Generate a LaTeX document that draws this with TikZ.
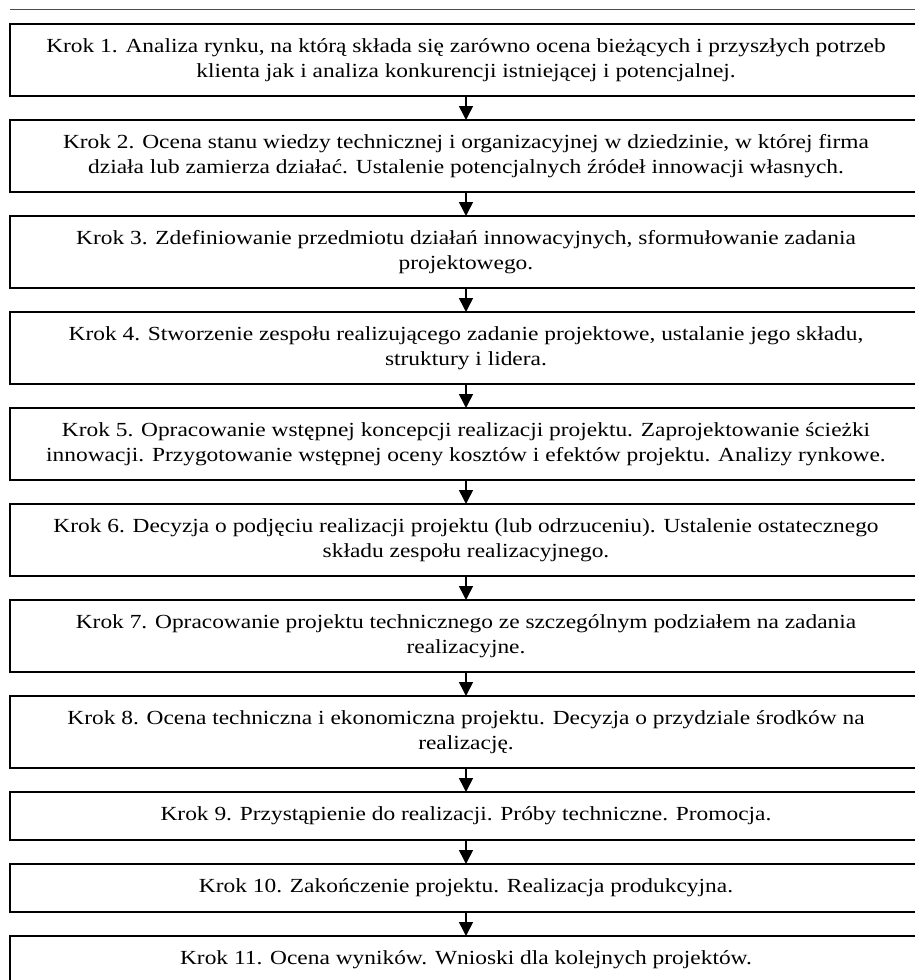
\documentclass[tikz,border=0pt]{standalone}
\usepackage{fontspec}
\setmainfont[FakeStretch=1.17]{Liberation Serif}
\usetikzlibrary{positioning, arrows.meta}
\tikzstyle{step2} = [rectangle, minimum width=912pt, minimum height=72pt, inner sep=0pt, outer sep=0pt, align=center, draw=black, line width=1.6pt, font=\fontsize{20}{25}\selectfont]
\tikzstyle{step1} = [step2, minimum height=48pt]
\tikzstyle{arrow} = [line width=1.6pt, -{Triangle[length=14pt,width=14pt]}]

\begin{document}
\begin{tikzpicture}[x=1pt, y=1pt, node distance=24pt]
\useasboundingbox (0,0) rectangle (915,-980);
\clip (0,0) rectangle (915,-980);
% Rule above the chart
\draw [black!70, line width=1pt] (10,-9) -- (920,-9);

% Steps
\node (k1) [step2, anchor=north] at (466,-24) {Krok 1. Analiza rynku, na którą składa się zarówno ocena bieżących i przyszłych potrzeb\\klienta jak i analiza konkurencji istniejącej i potencjalnej.};
\node (k2) [step2, below=of k1] {Krok 2. Ocena stanu wiedzy technicznej i organizacyjnej w dziedzinie, w której firma\\działa lub zamierza działać. Ustalenie potencjalnych źródeł innowacji własnych.};
\node (k3) [step2, below=of k2] {Krok 3. Zdefiniowanie przedmiotu działań innowacyjnych, sformułowanie zadania\\projektowego.};
\node (k4) [step2, below=of k3] {Krok 4. Stworzenie zespołu realizującego zadanie projektowe, ustalanie jego składu,\\struktury i lidera.};
\node (k5) [step2, below=of k4] {Krok 5. Opracowanie wstępnej koncepcji realizacji projektu. Zaprojektowanie ścieżki\\innowacji. Przygotowanie wstępnej oceny kosztów i efektów projektu. Analizy rynkowe.};
\node (k6) [step2, below=of k5] {Krok 6. Decyzja o podjęciu realizacji projektu (lub odrzuceniu). Ustalenie ostatecznego\\składu zespołu realizacyjnego.};
\node (k7) [step2, below=of k6] {Krok 7. Opracowanie projektu technicznego ze szczególnym podziałem na zadania\\realizacyjne.};
\node (k8) [step2, below=of k7] {Krok 8. Ocena techniczna i ekonomiczna projektu. Decyzja o przydziale środków na\\realizację.};
\node (k9) [step1, below=of k8] {Krok 9. Przystąpienie do realizacji. Próby techniczne. Promocja.};
\node (k10) [step1, below=of k9] {Krok 10. Zakończenie projektu. Realizacja produkcyjna.};
\node (k11) [step1, below=of k10] {Krok 11. Ocena wyników. Wnioski dla kolejnych projektów.};

% Arrows
\foreach \a/\b in {k1/k2, k2/k3, k3/k4, k4/k5, k5/k6, k6/k7, k7/k8, k8/k9, k9/k10, k10/k11}
  \draw [arrow] (\a) -- (\b);
\end{tikzpicture}
\end{document}
